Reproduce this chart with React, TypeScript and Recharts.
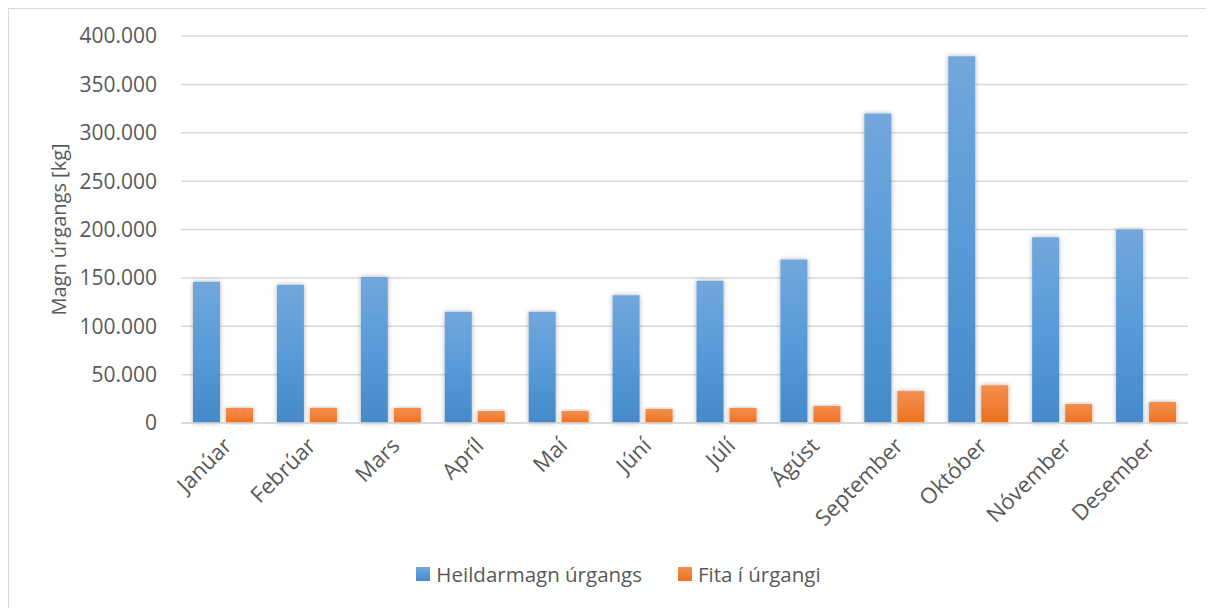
import { BarChart, Bar, XAxis, YAxis, CartesianGrid, Legend } from 'recharts';

const months = ['Janúar', 'Febrúar', 'Mars', 'Apríl', 'Maí', 'Júní', 'Júlí', 'Ágúst', 'September', 'Október', 'Nóvember', 'Desember'];
const totalWaste = [146000, 143000, 151000, 115000, 115000, 132000, 147000, 169000, 320000, 379000, 192000, 200000];
const fatInWaste = [15500, 15500, 15500, 12400, 12400, 14500, 15500, 17600, 33000, 39000, 19700, 21700];
const yTicks = [0, 50000, 100000, 150000, 200000, 250000, 300000, 350000, 400000];

const data = months.map((month, i) => ({
  month,
  total: totalWaste[i],
  fat: fatInWaste[i],
}));

const FONT = '"Open Sans", sans-serif';
const TEXT = '#595959';

const fmt = (v: number) => (v === 0 ? '0' : v.toLocaleString('de-DE'));

const legendItems = [
  { label: 'Heildarmagn úrgangs', fill: 'url(#gBlue)' },
  { label: 'Fita í úrgangi', fill: 'url(#gOrange)' },
];

const MonthTick = (props: any) => {
  const { x, y, payload } = props;
  return (
    <g transform={`translate(${x + 6},${y + 12})`}>
      <text
        transform="rotate(-45)"
        textAnchor="end"
        dominantBaseline="middle"
        fill={TEXT}
        fontSize={22}
        fontFamily={FONT}
      >
        {payload.value}
      </text>
    </g>
  );
};

const LegendContent = () => (
  <div
    style={{
      display: 'flex',
      justifyContent: 'center',
      gap: 36,
      fontFamily: FONT,
      fontSize: 20.5,
      color: TEXT,
      marginLeft: 40,
      position: 'relative',
      top: -5,
    }}
  >
    {legendItems.map((it) => (
      <div key={it.label} style={{ display: 'flex', alignItems: 'center', gap: 6 }}>
        <svg width={14} height={14}>
          <rect width={14} height={14} fill={it.fill} />
        </svg>
        <span>{it.label}</span>
      </div>
    ))}
  </div>
);

const App = () => {
  return (
    <div
      style={{
        width: 1210,
        height: 610,
        border: '1.5px solid #d9d9d9',
        boxSizing: 'border-box',
        background: '#fff',
      }}
    >
      <BarChart
        width={1198}
        height={592}
        data={data}
        margin={{ top: 27, right: 19, left: 0, bottom: 8 }}
        barCategoryGap={12}
        barGap={6}
      >
        <defs>
          <linearGradient id="gBlue" x1="0" y1="0" x2="0" y2="1">
            <stop offset="0%" stopColor="#72a7dc" />
            <stop offset="50%" stopColor="#589bd8" />
            <stop offset="100%" stopColor="#4589c9" />
          </linearGradient>
          <linearGradient id="gOrange" x1="0" y1="0" x2="0" y2="1">
            <stop offset="0%" stopColor="#f58e4e" />
            <stop offset="100%" stopColor="#ec721f" />
          </linearGradient>
          <filter id="shadow" x="-30%" y="-10%" width="160%" height="120%">
            <feDropShadow dx="0" dy="0" stdDeviation="2.5" floodColor="#000" floodOpacity="0.3" />
          </filter>
        </defs>
        <CartesianGrid vertical={false} stroke="#d9d9d9" strokeWidth={1.5} />
        <XAxis
          dataKey="month"
          interval={0}
          tickLine={false}
          axisLine={{ stroke: '#d9d9d9', strokeWidth: 1.5 }}
          tick={<MonthTick />}
          height={142}
        />
        <YAxis
          domain={[0, 400000]}
          ticks={yTicks}
          tickFormatter={fmt}
          axisLine={false}
          tickLine={false}
          tickSize={0}
          tickMargin={24}
          width={172}
          tick={{ fill: TEXT, fontSize: 21, fontFamily: FONT }}
          label={{
            value: 'Magn úrgangs [kg]',
            angle: -90,
            position: 'insideLeft',
            offset: 50,
            style: { fill: TEXT, fontSize: 20, fontFamily: FONT, textAnchor: 'middle' },
          }}
        />
        <Legend verticalAlign="bottom" content={<LegendContent />} />
        <Bar
          dataKey="total"
          name="Heildarmagn úrgangs"
          fill="url(#gBlue)"
          filter="url(#shadow)"
          isAnimationActive={false}
        />
        <Bar
          dataKey="fat"
          name="Fita í úrgangi"
          fill="url(#gOrange)"
          filter="url(#shadow)"
          isAnimationActive={false}
        />
      </BarChart>
    </div>
  );
};

export default App;
